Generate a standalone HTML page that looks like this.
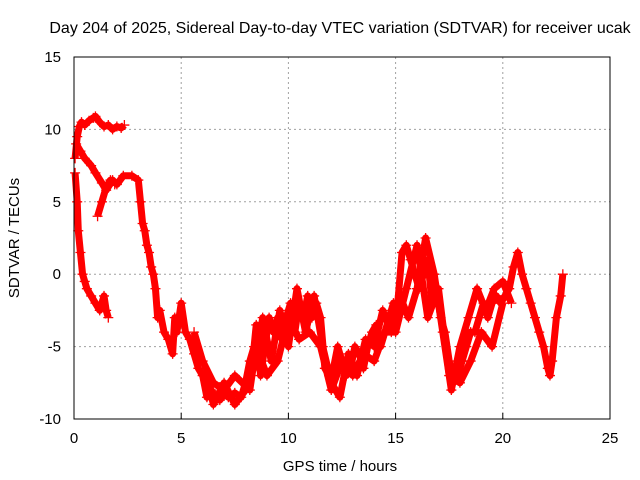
<!DOCTYPE html>
<html><head><meta charset="utf-8"><style>
html,body{margin:0;padding:0;background:#fff}
svg{display:block;font-family:"Liberation Sans",sans-serif}
</style></head><body>
<svg id="chart" width="640" height="480">
<text x="340" y="33" font-size="16" text-anchor="middle">Day 204 of 2025, Sidereal Day-to-day VTEC variation (SDTVAR) for receiver ucak</text>
<text x="340" y="471" font-size="15" text-anchor="middle">GPS time / hours</text>
<text transform="translate(19,238) rotate(-90)" font-size="15" text-anchor="middle">SDTVAR / TECUs</text>
<g id="grid"></g><g id="marks"></g>
<rect x="74" y="57" width="536" height="362" fill="none" stroke="#000" stroke-width="1"/>
</svg>
<script>
const xTicks=[0,5,10,15,20,25];
const yTicks=[-10,-5,0,5,10,15];
const trackA_t=[0.05,0.15,0.25,0.35,0.5,0.7,0.9,1.0,1.2,1.4,1.6,1.8,2.0,2.2,2.35];
const trackA_v=[8,9.5,10.2,10.5,10.3,10.6,10.8,10.9,10.5,10.2,10.3,10.0,10.2,10.1,10.3];
const trackB_t=[0.1,0.3,0.5,0.8,1.0,1.3,1.5,1.8,2.0,2.3,2.7,3.0,3.1,3.2,3.3,3.4,3.5,3.6,3.7,3.8,3.9,4.0,4.2,4.4,4.6,4.7,4.8,5.0,5.2,5.4,5.6,5.8,6.0,6.2,6.4,6.6,6.8,7.0,7.2,7.5,7.8,8.0,8.2,8.4,8.5,8.7,8.9,9.1,9.3,9.5,9.7,9.9,10.1,10.3,10.5,10.7,10.9,11.1,11.3,11.5,11.7,11.9,12.1,12.3,12.5,12.7,12.9,13.1,13.3,13.5,13.7,13.9,14.1,14.3,14.5,14.7,14.9,15.1,15.3,15.5,15.7,15.9,16.1,16.3,16.5,16.7,16.9,17.1,17.3,17.5,17.7,17.9,18.1,18.3,18.5,18.7,18.9,19.1,19.3,19.5,19.7,19.9,20.1,20.3,20.5,20.7,20.9,21.1,21.3,21.5,21.7,21.9,22.1,22.2,22.3,22.5,22.7,22.8];
const trackB_v=[9,8.5,8,7.5,7,6.3,5.8,6.5,6.2,6.8,6.8,6.5,5,3.5,3,2,1.5,0.5,0,-1,-3,-2.5,-4,-4.5,-5.5,-3,-4,-2,-4,-4.5,-5.5,-6.5,-7,-8.5,-8,-8.5,-8.7,-8.3,-8.5,-8.2,-8.5,-7.5,-6,-5,-3.5,-7,-5,-3,-4,-3,-4.5,-3,-2,-4,-2,-3,-1.5,-3,-2,-3,-6.5,-7,-6.5,-5,-6,-7,-6.5,-5,-5.5,-6.5,-5,-4,-3.5,-5,-4,-3,-2,-2,1.5,2,1,0,-1,0,1,-2,-1,-3,-4,-6,-7.5,-7,-6,-5,-4,-4,-3,-2,-3,-2,-1.5,-2,-1.5,-1,0.5,1.5,0,-1,-2,-3,-4,-5,-6.5,-7,-6,-3,-1.5,0];
const trackC_t=[0.05,0.15,0.2,0.3,0.4,0.5,0.6,0.8,1.0,1.2,1.4,1.5,1.6];
const trackC_v=[7,5,3,1.5,0,-0.5,-1,-1.5,-2,-2.5,-1.5,-2.5,-3];
const trackD_t=[1.1,1.3,1.5,1.7,1.9];
const trackD_v=[4,5,6,6.5,6.2];
const trackE_t=[5.6,6.0,6.5,7.0,7.5,8.2,8.5,9.0,9.5,10.0,10.5,11.0,11.5,12.0,12.5,13.0,13.5,14.0,14.5,15.0,15.5,16.0,16.5,17.0,17.5,18.0,18.5,19.0,19.5,20.0];
const trackE_v=[-4,-6,-7.5,-8,-7,-8,-5,-7,-6,-3,-4.5,-4,-5,-8,-6,-7,-5.5,-6,-4,-4,-1,2,-3,-1,-7,-7.5,-6,-4,-5,-2];
const trackF_t=[6.2,6.5,7.0,7.5,8.0,8.5,8.8,9.2,9.6,10.0,10.4,10.8,11.2,11.6,12.0,12.4,12.8,13.2,13.6,14.0,14.4,14.8,15.2,15.6,16.0,16.4,16.8,17.2,17.6,18.0,18.4,18.8,19.2,19.6,20.0,20.4];
const trackF_v=[-7,-9,-7.5,-9,-8,-6,-3,-6,-2.5,-5,-1,-4,-1.5,-5,-7.5,-8.5,-5.5,-7,-4.5,-5,-2.5,-4,-1.5,-3,-1,2.5,0,-4,-8,-5,-3,-1,-2.5,-1,-0.5,-2];
const tracks=[[trackA_t,trackA_v],[trackB_t,trackB_v],[trackC_t,trackC_v],[trackD_t,trackD_v],[trackE_t,trackE_v],[trackF_t,trackF_v]];
const X=h=>74+h*(536/25);
const Y=v=>419-(v+10)*(362/25);
const NS="http://www.w3.org/2000/svg";
const grid=document.getElementById('grid'),marks=document.getElementById('marks');
function mk(tag,attrs,parent){const e=document.createElementNS(NS,tag);for(const k in attrs)e.setAttribute(k,attrs[k]);parent.appendChild(e);return e;}
xTicks.forEach(t=>{
 if(t>0&&t<25){const g=mk('line',{x1:X(t),x2:X(t),y1:57,y2:419,stroke:'#a0a0a0','stroke-dasharray':'2,3'},grid);
 
 }
 const tk=mk('line',{x1:X(t),x2:X(t),y1:419,y2:413,stroke:'#000'},grid);
 
 
 const l=mk('text',{x:X(t),y:443,'font-size':15,'text-anchor':'middle'},grid);l.textContent=t;
 
 
});
yTicks.forEach(t=>{
 if(t>-10&&t<15){const g=mk('line',{x1:74,x2:610,y1:Y(t),y2:Y(t),stroke:'#a0a0a0','stroke-dasharray':'2,3'},grid);
 
 }
 const l=mk('text',{x:61,y:Y(t)+5,'font-size':15,'text-anchor':'end'},grid);l.textContent=t;
 
 
});
tracks.forEach(([ts,vs],i)=>{
 const pts=ts.map((t,j)=>X(t)+','+Y(vs[j])).join(' ');
 const pl=mk('polyline',{points:pts,fill:'none',stroke:'#f00','stroke-width':7,'stroke-linejoin':'round'},marks);
 
 
 ts.forEach((t,j)=>{
  const x=X(t),y=Y(vs[j]);
  const p=mk('path',{d:`M${x-5},${y}H${x+5}M${x},${y-5}V${y+5}`,stroke:'#f00','stroke-width':1.3},marks);
  
  
 });
});
</script>
</body></html>
